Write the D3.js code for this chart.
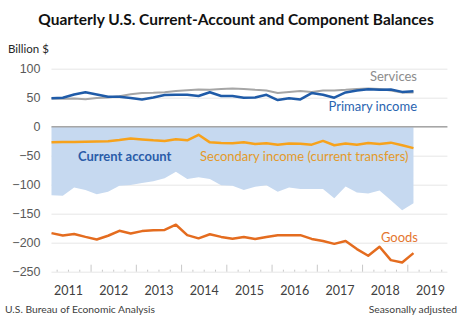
<!DOCTYPE html>
<html>
<head>
<meta charset="utf-8">
<script src="https://cdnjs.cloudflare.com/ajax/libs/d3/7.8.5/d3.min.js"></script>
<style>
  body { margin: 0; background: #fff; }
  svg { font-family: Lato, "Open Sans", sans-serif; }
  .y-axis .domain { display: none; }
  .y-axis text { fill: #595959; font-size: 12.5px; }
</style>
</head>
<body>
<div id="chart"></div>
<script>
// quarterly balances, billions of dollars, 2011Q1 - 2019Q1
var years = [2011, 2012, 2013, 2014, 2015, 2016, 2017, 2018, 2019];
var yTicks = [100, 50, 0, -50, -100, -150, -200, -250];

var services = [48.5, 48, 48.5, 47.5, 49.5, 50.5, 52.5, 56, 58, 58.5, 59.5, 61.5,
  63, 64, 63.5, 65, 66, 65, 63.5, 62.5, 58, 60, 61.5, 60, 62.5, 62.5, 63.5, 65,
  66, 65, 62.5, 59, 59];
var primaryIncome = [49, 50, 55.5, 59.5, 55.5, 51.5, 51.5, 49.5, 47, 50.5, 54.5, 55,
  55, 53, 59.5, 53, 53, 50, 50.5, 55, 46, 49, 47, 58, 55, 50, 59, 62.5, 64.5, 63.5,
  64, 60, 61];
var secondaryIncome = [-27, -26.5, -26.5, -26, -25.5, -25, -23, -20.5, -22, -23.5, -24.5, -21.5,
  -23.5, -14, -27, -28, -28.5, -27, -30, -28.5, -31, -29, -29.5, -31, -24.5, -32, -29,
  -31, -28, -30, -27.5, -32, -37];
var goods = [-183.5, -187.5, -185, -190, -194.5, -188, -179.5, -184, -180, -178.5, -178, -169,
  -187, -192.5, -185.5, -190, -193, -190, -193.5, -190, -187, -187, -187, -193.5, -197,
  -202, -197, -211, -222.5, -207, -230, -234, -218];
var currentAccount = [-118, -119, -105, -109, -116.5, -112, -102, -100.5, -97, -94, -89, -77.5,
  -90, -87, -90, -101, -102, -109, -103.5, -101, -112, -105, -107.5, -107.5, -107.5, -123.5,
  -103, -113.5, -115, -110, -127, -144, -132];

var svgWidth = 475;
var svgHeight = 322;

// quarter categories along the x axis
var quarters = [];
years.forEach(function(yr) {
  for (var q = 1; q <= 4; q++) quarters.push(yr + "Q" + q);
});

var svg = d3.select("#chart")
  .append("svg")
  .attr("width", svgWidth)
  .attr("height", svgHeight);

var x = d3.scalePoint()
  .domain(quarters)
  .range([51.5, 447.4]);

var y = d3.scaleLinear()
  .domain([-250, 100])
  .range([271.7, 68.7]);

var step = x.step();

// title and unit
svg.append("text")
  .attr("x", 236)
  .attr("y", 25)
  .attr("text-anchor", "middle")
  .style("font-size", "15.5px")
  .style("font-weight", "bold")
  .style("fill", "#111")
  .text("Quarterly U.S. Current-Account and Component Balances");

svg.append("text")
  .attr("x", 8)
  .attr("y", 53)
  .style("font-size", "11.5px")
  .style("fill", "#262626")
  .text("Billion $");

// gridlines + y labels
var yAxis = svg.append("g")
  .classed("y-axis", true)
  .attr("transform", "translate(" + x(quarters[0]) + ",0)")
  .call(d3.axisLeft(y)
    .tickValues(yTicks)
    .tickSize(-(x(quarters[quarters.length - 1]) - x(quarters[0])))
    .tickPadding(11));

yAxis.selectAll(".tick line")
  .attr("stroke", "#e6e6e6")
  .attr("stroke-width", 1);

// current account as a filled area down from zero
var data = currentAccount.map(function(v, i) {
  return {
    q: quarters[i],
    ca: v,
    services: services[i],
    primary: primaryIncome[i],
    secondary: secondaryIncome[i],
    goods: goods[i]
  };
});

svg.append("path")
  .datum(data)
  .attr("fill", "#c6d9f0")
  .attr("d", d3.area()
    .x(d => x(d.q))
    .y0(y(0))
    .y1(d => y(d.ca)));

// zero line
svg.append("line")
  .attr("x1", x(quarters[0]))
  .attr("x2", x(quarters[quarters.length - 1]))
  .attr("y1", y(0))
  .attr("y2", y(0))
  .attr("stroke", "#a6a6a6")
  .attr("stroke-width", 1.5);

// quarter ticks on the bottom axis, taller at year breaks
var tickGroup = svg.append("g");
quarters.forEach(function(q, i) {
  if (i === quarters.length - 1) return;
  var tx = x(q) + step / 2;
  var major = (i % 4) === 3;
  tickGroup.append("line")
    .attr("x1", tx)
    .attr("x2", tx)
    .attr("y1", y(-250))
    .attr("y2", y(-250) - (major ? 7 : 2))
    .attr("stroke", "#c8c8c8")
    .attr("stroke-width", 1);
});

// year labels centred on each year
svg.append("g")
  .selectAll("text")
  .data(years)
  .enter()
  .append("text")
  .attr("x", d => (x(d + "Q2") + x(d + "Q3")) / 2)
  .attr("y", 295)
  .attr("text-anchor", "middle")
  .style("font-size", "12.5px")
  .style("fill", "#404040")
  .text(d => d);

// series lines
var series = [
  { key: "services", color: "#a6a6a6", width: 2 },
  { key: "primary", color: "#1f5ba8", width: 2.5 },
  { key: "secondary", color: "#f7a21b", width: 2.5 },
  { key: "goods", color: "#e46c1f", width: 2.5 }
];

series.forEach(function(s) {
  svg.append("path")
    .datum(data)
    .attr("fill", "none")
    .attr("stroke", s.color)
    .attr("stroke-width", s.width)
    .attr("stroke-linejoin", "round")
    .attr("d", d3.line()
      .x(d => x(d.q))
      .y(d => y(d[s.key])));
});

// series labels
var labels = [
  { text: "Services", x: 417, y: 81, anchor: "end", color: "#8c8c8c", weight: "normal" },
  { text: "Primary income", x: 417, y: 111, anchor: "end", color: "#2a64b0", weight: "normal" },
  { text: "Current account", x: 78, y: 161, anchor: "start", color: "#2a5ca8", weight: "bold" },
  { text: "Secondary income (current transfers)", x: 200, y: 161, anchor: "start", color: "#e39a2a", weight: "normal" },
  { text: "Goods", x: 418, y: 242, anchor: "end", color: "#e4762f", weight: "normal" }
];

svg.append("g")
  .selectAll("text")
  .data(labels)
  .enter()
  .append("text")
  .attr("x", d => d.x)
  .attr("y", d => d.y)
  .attr("text-anchor", d => d.anchor)
  .style("font-size", "13px")
  .style("font-weight", d => d.weight)
  .style("fill", d => d.color)
  .text(d => d.text);

// footer
svg.append("text")
  .attr("x", 5)
  .attr("y", 313)
  .style("font-size", "10.3px")
  .style("fill", "#404040")
  .text("U.S. Bureau of Economic Analysis");

svg.append("text")
  .attr("x", 457)
  .attr("y", 313)
  .attr("text-anchor", "end")
  .style("font-size", "10.3px")
  .style("fill", "#404040")
  .text("Seasonally adjusted");
</script>
</body>
</html>
